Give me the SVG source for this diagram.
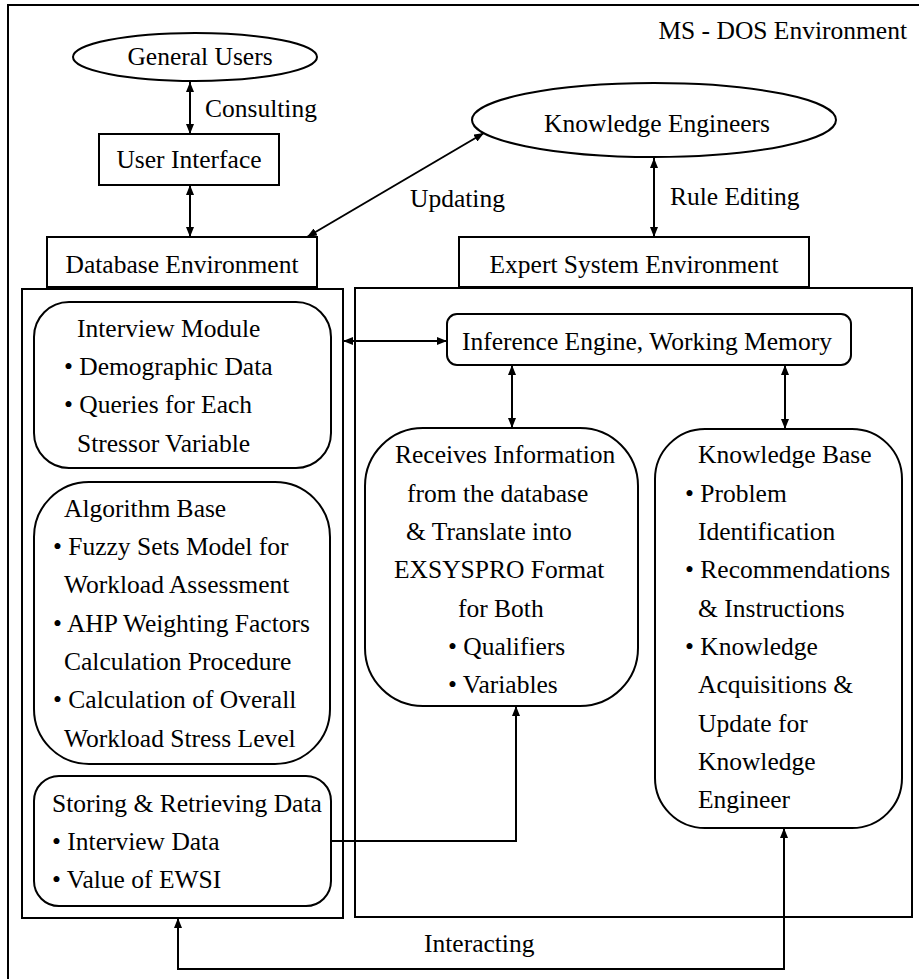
<svg xmlns="http://www.w3.org/2000/svg" width="919" height="979" viewBox="0 0 919 979">
<style>
text{font-family:"Liberation Serif","Times New Roman",serif;font-size:25.5px;fill:#000}
.c{text-anchor:middle}
.box{fill:none;stroke:#000;stroke-width:2}
.ln{fill:none;stroke:#000;stroke-width:2}
</style>
<defs>
<marker id="ah" viewBox="0 0 10 8" refX="10" refY="4" markerWidth="10" markerHeight="8" markerUnits="userSpaceOnUse" orient="auto-start-reverse">
<path d="M0,0 L10,4 L0,8 z" fill="#000"/>
</marker>
</defs>
<rect width="919" height="979" fill="#fff"/>
<g id="frame">
<path class="ln" d="M919,5 H8 V979"/>
<text x="907" y="39" text-anchor="end">MS - DOS Environment</text>
</g>
<g id="general-users">
<ellipse class="box" cx="195" cy="57" rx="122" ry="24"/>
<text class="c" x="200" y="65">General Users</text>
</g>
<g id="user-interface">
<rect class="box" x="99" y="134" width="180" height="51"/>
<text class="c" x="189" y="168">User Interface</text>
</g>
<g id="knowledge-engineers">
<ellipse class="box" cx="654" cy="120" rx="182" ry="37"/>
<text class="c" x="657" y="132">Knowledge Engineers</text>
</g>
<g id="database-environment">
<rect class="box" x="47" y="237" width="270" height="50"/>
<text class="c" x="182" y="273">Database Environment</text>
<rect class="box" x="22" y="289" width="321" height="629"/>
</g>
<g id="expert-system-environment">
<rect class="box" x="459" y="237" width="350" height="50"/>
<text class="c" x="634" y="273">Expert System Environment</text>
<rect class="box" x="355" y="288" width="557" height="629"/>
</g>
<g id="interview-module">
<rect class="box" x="34" y="302" width="297" height="166" rx="35"/>
<text x="77" y="337">Interview Module</text>
<text x="64" y="375">• Demographic Data</text>
<text x="64" y="413">• Queries for Each</text>
<text x="77" y="452">Stressor Variable</text>
</g>
<g id="algorithm-base">
<rect class="box" x="34" y="482" width="296" height="282" rx="55"/>
<text x="64" y="517">Algorithm Base</text>
<text x="53" y="555">• Fuzzy Sets Model for</text>
<text x="64" y="593">Workload Assessment</text>
<text x="53" y="632">• AHP Weighting Factors</text>
<text x="64" y="670">Calculation Procedure</text>
<text x="53" y="708">• Calculation of Overall</text>
<text x="64" y="747">Workload Stress Level</text>
</g>
<g id="storing-retrieving">
<rect class="box" x="34" y="776" width="297" height="130" rx="25"/>
<text x="52" y="812">Storing &amp; Retrieving Data</text>
<text x="52" y="850">• Interview Data</text>
<text x="52" y="888">• Value of EWSI</text>
</g>
<g id="inference-engine">
<rect class="box" x="447" y="314" width="404" height="51" rx="10"/>
<text x="462" y="350">Inference Engine, Working Memory</text>
</g>
<g id="receives-information">
<rect class="box" x="365" y="428" width="273" height="278" rx="58"/>
<text x="395" y="463">Receives Information</text>
<text x="407" y="502">from the database</text>
<text x="406" y="540">&amp; Translate into</text>
<text x="394" y="578">EXSYSPRO Format</text>
<text x="458" y="617">for Both</text>
<text x="448" y="655">• Qualifiers</text>
<text x="448" y="693">• Variables</text>
</g>
<g id="knowledge-base">
<rect class="box" x="655" y="429" width="247" height="399" rx="50"/>
<text x="698" y="463">Knowledge Base</text>
<text x="685" y="502">• Problem</text>
<text x="698" y="540">Identification</text>
<text x="685" y="578">• Recommendations</text>
<text x="698" y="617">&amp; Instructions</text>
<text x="685" y="655">• Knowledge</text>
<text x="698" y="693">Acquisitions &amp;</text>
<text x="698" y="732">Update for</text>
<text x="698" y="770">Knowledge</text>
<text x="698" y="808">Engineer</text>
</g>
<g id="connectors">
<line class="ln" x1="190" y1="82" x2="190" y2="134" marker-start="url(#ah)" marker-end="url(#ah)"/>
<text x="205" y="117">Consulting</text>
<line class="ln" x1="190" y1="185" x2="190" y2="237" marker-start="url(#ah)" marker-end="url(#ah)"/>
<line class="ln" x1="484" y1="133" x2="307" y2="237" marker-start="url(#ah)" marker-end="url(#ah)"/>
<text x="410" y="207">Updating</text>
<line class="ln" x1="654" y1="158" x2="654" y2="237" marker-start="url(#ah)" marker-end="url(#ah)"/>
<text x="670" y="205">Rule Editing</text>
<line class="ln" x1="343" y1="341" x2="447" y2="341" marker-start="url(#ah)" marker-end="url(#ah)"/>
<line class="ln" x1="512" y1="365" x2="512" y2="428" marker-start="url(#ah)" marker-end="url(#ah)"/>
<line class="ln" x1="785" y1="365" x2="785" y2="429" marker-start="url(#ah)" marker-end="url(#ah)"/>
<path class="ln" d="M331,841 H516 V706" marker-end="url(#ah)"/>
<path class="ln" d="M178,918 V969 H784 V828" marker-start="url(#ah)" marker-end="url(#ah)"/>
<text x="424" y="952">Interacting</text>
</g>
</svg>
